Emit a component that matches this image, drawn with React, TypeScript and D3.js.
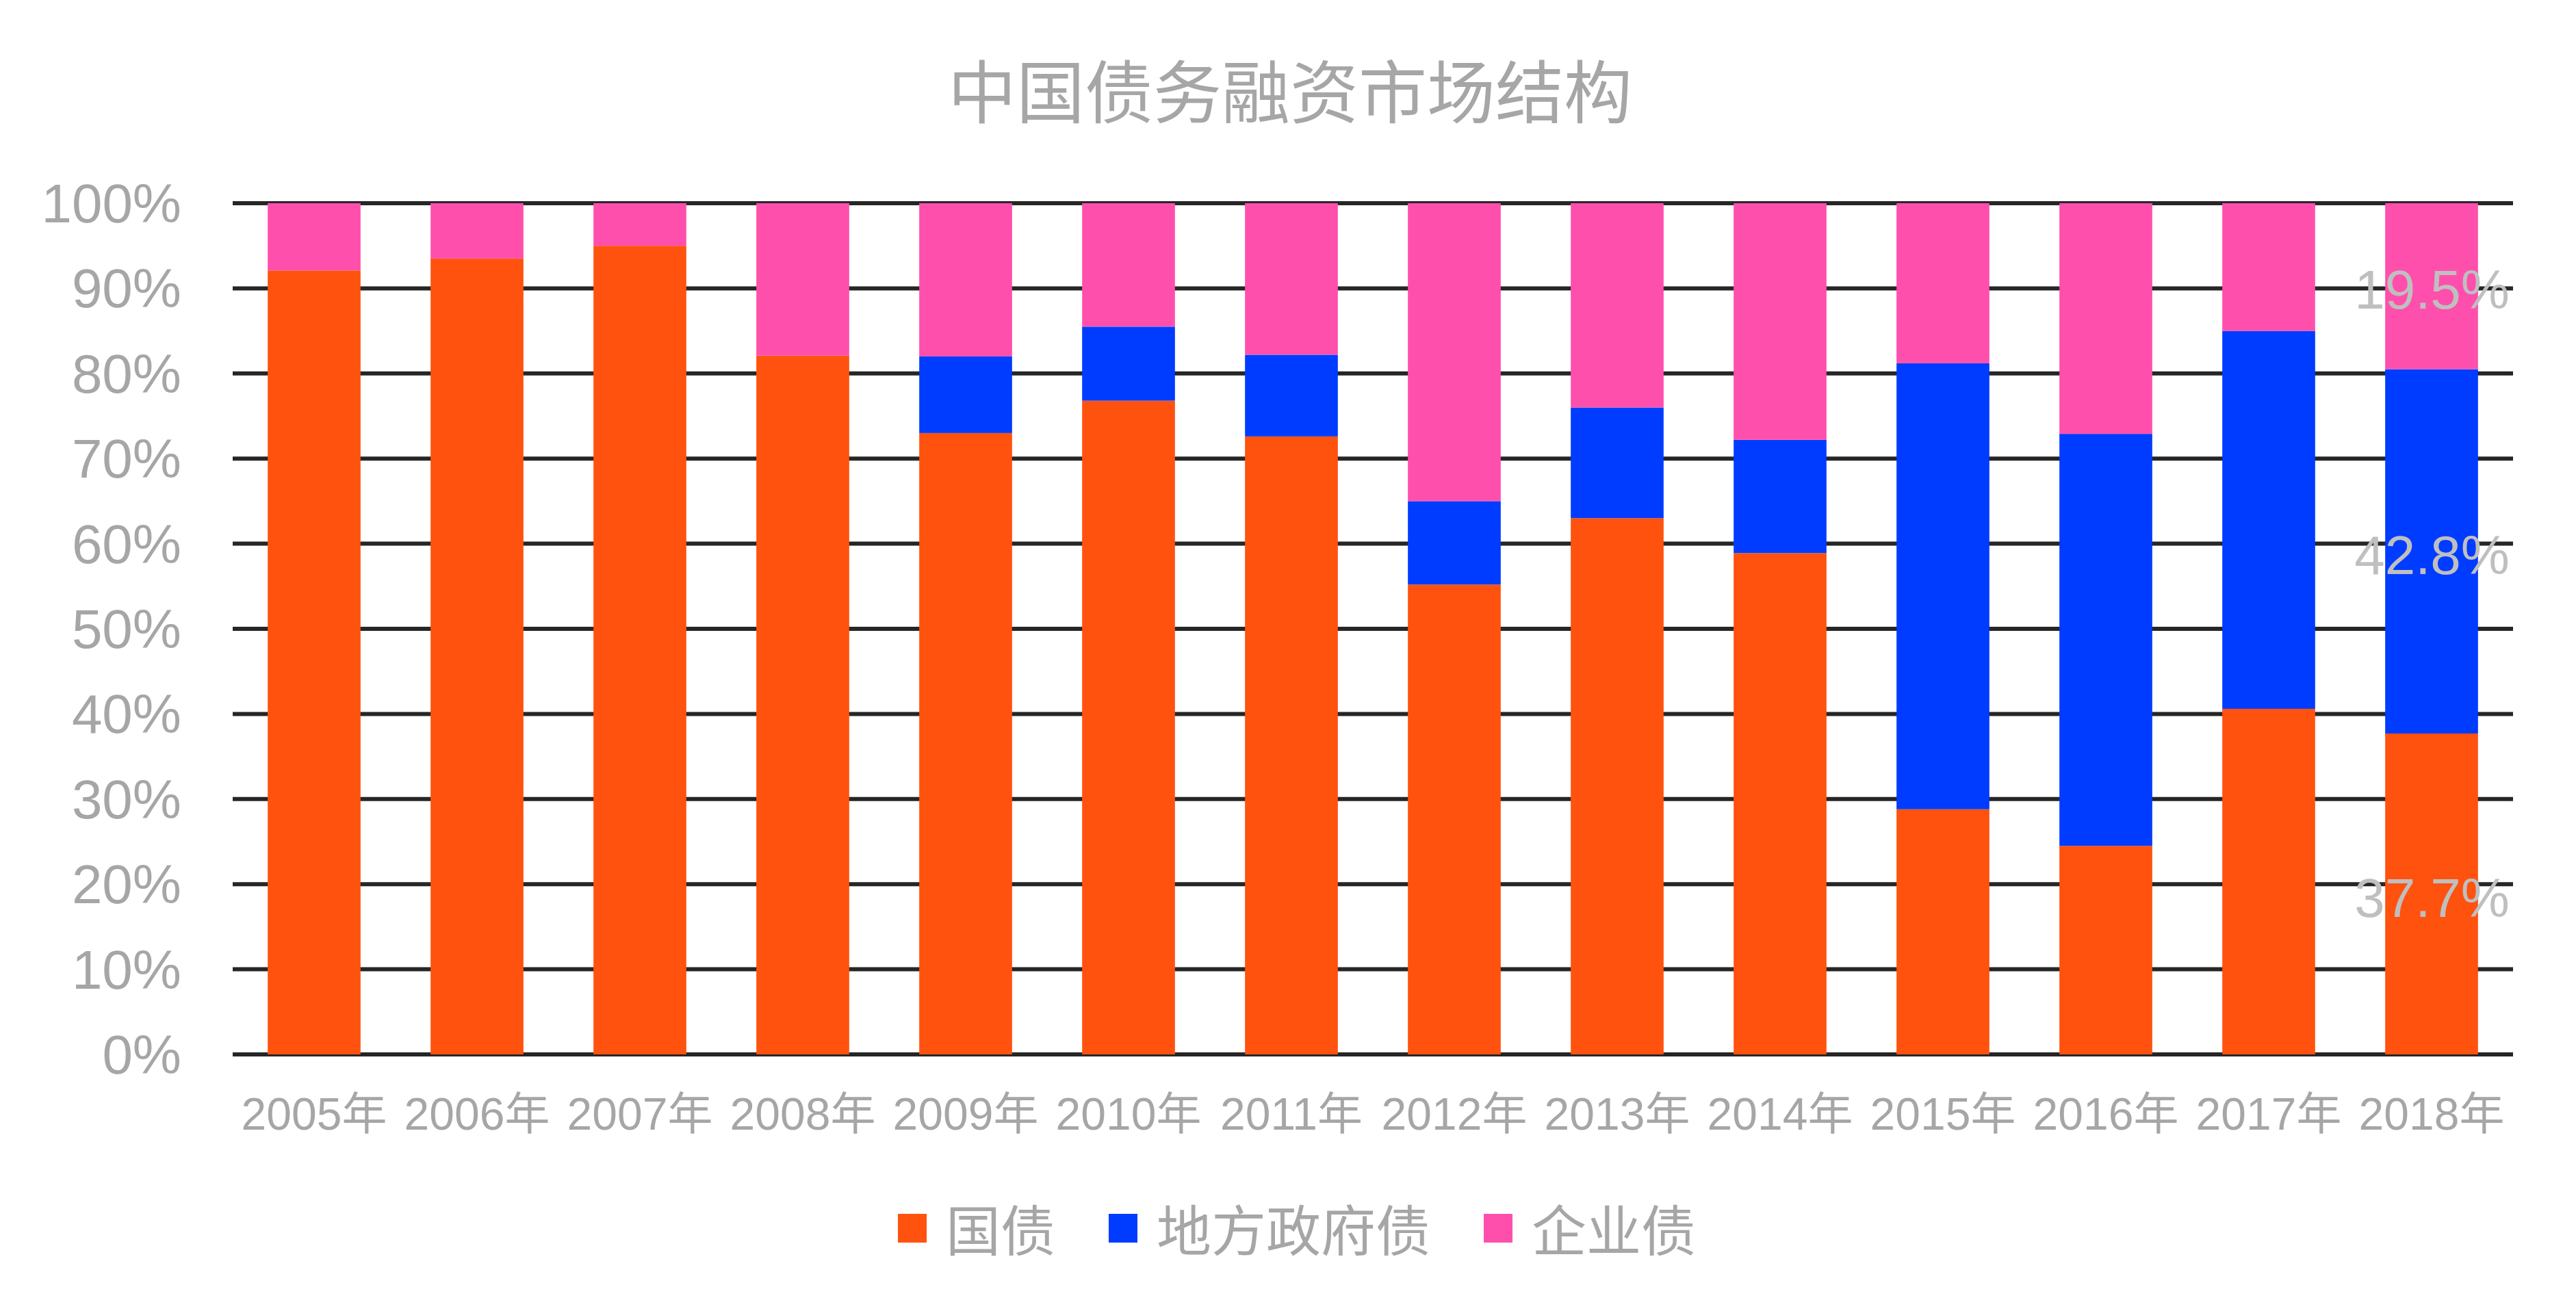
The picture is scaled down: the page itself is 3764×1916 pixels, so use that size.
import React from 'react';
import * as d3 from 'd3';

const years = ['2005年', '2006年', '2007年', '2008年', '2009年', '2010年', '2011年', '2012年', '2013年', '2014年', '2015年', '2016年', '2017年', '2018年'];
const guoZhai = [92.1, 93.5, 95.0, 82.1, 73.0, 76.8, 72.6, 55.2, 63.0, 58.9, 28.8, 24.5, 40.6, 37.7];
const difangZhai = [0, 0, 0, 0, 9.0, 8.7, 9.6, 9.8, 13.0, 13.3, 52.4, 48.4, 44.4, 42.8];
const qiyeZhai = [7.9, 6.5, 5.0, 17.9, 18.0, 14.5, 17.8, 35.0, 24.0, 27.8, 18.8, 27.1, 15.0, 19.5];
const seriesNames = ['国债', '地方政府债', '企业债'];
const seriesColors = ['#FF520F', '#003CFF', '#FF4FAD'];
const yTicks = [0, 10, 20, 30, 40, 50, 60, 70, 80, 90, 100];

const W = 3764;
const H = 1916;
const LATIN = '"Liberation Sans", Arial, "Noto Sans CJK SC", sans-serif';
const CJK = '"Noto Sans CJK SC", "Noto Sans", sans-serif';

const App: React.FC = () => {
  const rows = years.map((year, i) => ({
    year,
    国债: guoZhai[i],
    地方政府债: difangZhai[i],
    企业债: qiyeZhai[i],
  }));
  const stacked = d3.stack<any>().keys(seriesNames)(rows);

  const x = d3.scaleBand<string>()
    .domain(years)
    .range([340, 3672])
    .paddingInner(0.43)
    .paddingOuter(0.215);

  const y = d3.scaleLinear().domain([0, 100]).range([1541, 297]);

  // labels on the last column only
  const lastIdx = years.length - 1;

  // legend layout
  const legendFont = 80;
  const sq = 42;
  const legendItems: { name: string; color: string; x: number }[] = [];
  let cursor = 1312;
  seriesNames.forEach((name, i) => {
    legendItems.push({ name, color: seriesColors[i], x: cursor });
    cursor += sq + 28 + name.length * legendFont + 78;
  });

  return (
    <svg width={W} height={H} style={{ position: 'absolute', left: 0, top: 0, background: '#fff' }}>
      <rect width={W} height={H} fill="#fff" />
      <text x={1885} y={128} textAnchor="middle" dominantBaseline="central"
        fontFamily={CJK} fontSize={100} fill="#a6a6a6">中国债务融资市场结构</text>

      {/* grid */}
      <g>
        {yTicks.map(t => (
          <line key={t} x1={340} x2={3672} y1={y(t)} y2={y(t)} stroke="#262626" strokeWidth={6} />
        ))}
      </g>

      {/* y labels */}
      <g fontFamily={LATIN} fontSize={80} fill="#a6a6a6" textAnchor="end">
        {yTicks.map(t => (
          <text key={t} x={265} y={y(t) + 28}>{`${t}%`}</text>
        ))}
      </g>

      {/* bars */}
      {stacked.map((s, si) => (
        <g key={s.key} fill={seriesColors[si]}>
          {s.map((d, i) => (
            d[1] - d[0] > 0 ? (
              <rect key={i} x={x(years[i])} width={x.bandwidth()}
                y={y(d[1])} height={y(d[0]) - y(d[1])} />
            ) : null
          ))}
        </g>
      ))}

      {/* data labels for 2018 */}
      <g fontFamily={LATIN} fontSize={80} fill="#bfbfbf" textAnchor="end">
        {stacked.map(s => {
          const d = s[lastIdx];
          const mid = (d[0] + d[1]) / 2;
          return (
            <text key={s.key} x={3667} y={y(mid) + 33}>{`${(d[1] - d[0]).toFixed(1)}%`}</text>
          );
        })}
      </g>

      {/* x labels */}
      <g fontFamily={LATIN} fontSize={66} fill="#a6a6a6" textAnchor="middle">
        {years.map(yr => (
          <text key={yr} x={(x(yr) ?? 0) + x.bandwidth() / 2} y={1651}>{yr}</text>
        ))}
      </g>

      {/* legend */}
      <g>
        {legendItems.map(it => (
          <g key={it.name}>
            <rect x={it.x} y={1774} width={sq} height={sq} fill={it.color} />
            <text x={it.x + sq + 28} y={1793} dominantBaseline="central"
              fontFamily={CJK} fontSize={legendFont} fill="#a6a6a6">{it.name}</text>
          </g>
        ))}
      </g>
    </svg>
  );
};

export default App;
